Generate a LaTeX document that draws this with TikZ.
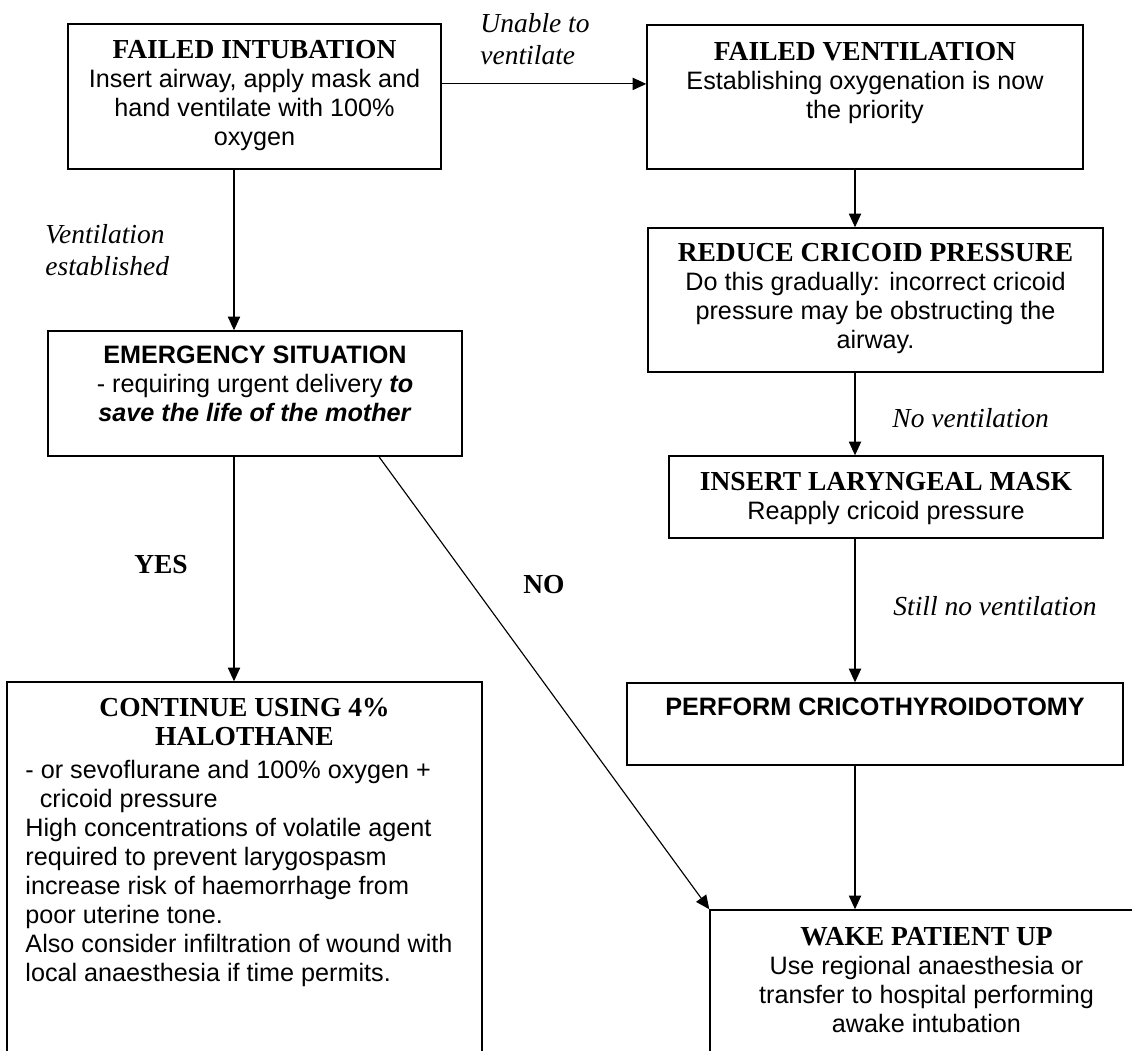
\documentclass[tikz,border=0pt]{standalone}
\usepackage{fontspec}
\setmainfont{Liberation Serif}
\setsansfont{Liberation Sans}
\usetikzlibrary{positioning,arrows.meta}

\newcommand{\boxhead}[1]{{\rmfamily\bfseries\fontsize{12}{13.8}\selectfont #1}}
\newcommand{\boxheadsf}[1]{{\sffamily\bfseries #1}}

\tikzset{
  box/.style={draw, line width=0.65pt, inner sep=0pt},
  txt/.style={inner sep=0pt, align=center, font=\sffamily\fontsize{11}{12.65}\selectfont},
  lbl/.style={inner sep=0pt, align=left, font=\rmfamily\itshape\fontsize{12}{13.8}\selectfont},
  yesno/.style={inner sep=0pt, font=\rmfamily\bfseries\fontsize{12}{13.8}\selectfont},
  arr/.style={line width=0.5pt, -{Triangle[length=6pt,width=5.4pt]}}
}

\begin{document}
\begin{tikzpicture}[x=0.4367pt, y=-0.4367pt]
    \useasboundingbox (0,0) rectangle (1132,1050);

    % boxes
    \node[box, minimum width=162.9pt, minimum height=63.3pt] (fi) at (254.5,96.5) {};
    \node[box, minimum width=190.4pt, minimum height=62.9pt] (fv) at (865,97) {};
    \node[box, minimum width=198.7pt, minimum height=62.9pt] (rc) at (875.5,300) {};
    \node[box, minimum width=180.8pt, minimum height=54.6pt] (em) at (255,393.5) {};
    \node[box, minimum width=189.5pt, minimum height=35.8pt] (lm) at (886,497) {};
    \node[box, minimum width=216.6pt, minimum height=35.8pt] (pc) at (875,724) {};
    \node[box, minimum width=207.4pt, minimum height=173.8pt] (ch) at (244.5,881) {};
    \node[box, minimum width=189.1pt, minimum height=83pt] (wu) at (926.5,1005) {};

    % box texts
    \node[txt, below=7.4pt of fi.north] (fitext) {\boxhead{FAILED INTUBATION}\\ Insert airway, apply mask and\\ hand ventilate with 100\%\\ oxygen};
    \node[txt, below=7.9pt of fv.north] (fvtext) {\boxhead{FAILED VENTILATION}\\ Establishing oxygenation is now\\ the priority};
    \node[txt, below=7.0pt of rc.north] (rctext) {\boxhead{REDUCE CRICOID PRESSURE}\\ Do this gradually: incorrect cricoid\\ pressure may be obstructing the\\ airway.};
    \node[txt, below=6.6pt of em.north] (emtext) {\boxheadsf{EMERGENCY SITUATION}\\ - requiring urgent delivery \textbf{\textit{to}}\\ \textbf{\textit{save the life of the mother}}};
    \node[txt, below=7.4pt of lm.north] (lmtext) {\boxhead{INSERT LARYNGEAL MASK}\\ Reapply cricoid pressure};
    \node[txt, below=6.6pt of pc.north] (pctext) {\boxheadsf{PERFORM CRICOTHYROIDOTOMY}};
    \node[txt, below=7.0pt of ch.north] (chtitle) {\boxhead{CONTINUE USING 4\%}\\ \boxhead{HALOTHANE}};
    \node[txt, align=left, anchor=north west] (chbody) at (25,760) {- or sevoflurane and 100\% oxygen +\\
        \hspace*{6.3pt}cricoid pressure\\
        High concentrations of volatile agent\\
        required to prevent larygospasm\\
        increase risk of haemorrhage from\\
        poor uterine tone.\\
        Also consider infiltration of wound with\\
        local anaesthesia if time permits.};
    \node[txt, below=7.9pt of wu.north] (wutext) {\boxhead{WAKE PATIENT UP}\\ Use regional anaesthesia or\\ transfer to hospital performing\\ awake intubation};

    % labels
    \node[lbl, anchor=north west] (unable) at (480,13) {Unable to\\ ventilate};
    \node[lbl, anchor=north west] (established) at (45,224) {Ventilation\\ established};
    \node[lbl, anchor=west] (noventilation) at (892,418) {No ventilation};
    \node[lbl, anchor=west] (stillno) at (893,606) {Still no ventilation};
    \node[yesno] (yes) at (161,565) {YES};
    \node[yesno] (no) at (544,585) {NO};

    % connectors
    \coordinate (lcol) at (234,0);
    \coordinate (rcol) at (855,0);
    \coordinate (nocol) at (379,0);
    \coordinate (fiout) at ([yshift=5.5pt]fi.east);
    \draw[arr] (fiout) -- (fiout -| fv.west);
    \draw[arr] (lcol |- fi.south) -- (lcol |- em.north);
    \draw[arr] (lcol |- em.south) -- (lcol |- ch.north);
    \draw[arr] (nocol |- em.south) -- (wu.north west);
    \draw[arr] (rcol |- fv.south) -- (rcol |- rc.north);
    \draw[arr] (rcol |- rc.south) -- (rcol |- lm.north);
    \draw[arr] (rcol |- lm.south) -- (rcol |- pc.north);
    \draw[arr] (rcol |- pc.south) -- (rcol |- wu.north);
\end{tikzpicture}
\end{document}
